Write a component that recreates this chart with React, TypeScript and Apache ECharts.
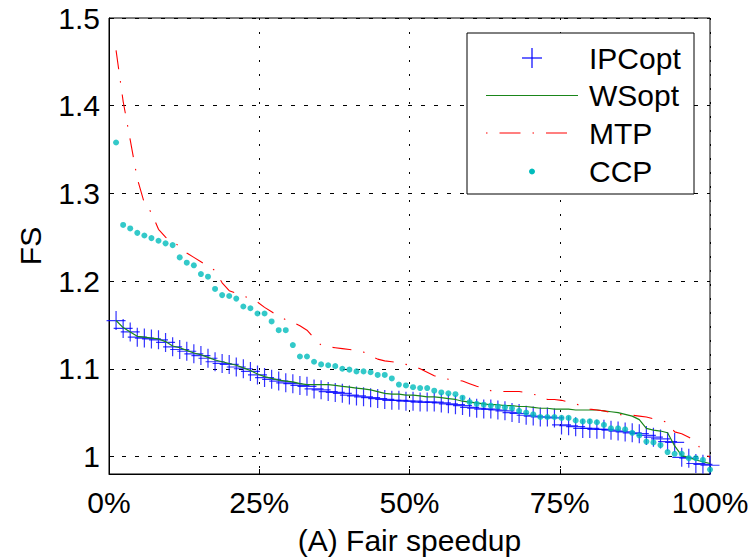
import React, { useEffect, useRef } from "react";
import * as echarts from "echarts";

// Values, index 1..85 (rank percentile)
const ipcOpt = [
  1.155, 1.146, 1.142, 1.136, 1.135, 1.134, 1.133, 1.130, 1.125, 1.122,
  1.120, 1.117, 1.115, 1.112, 1.108, 1.106, 1.105, 1.102, 1.100, 1.097,
  1.093, 1.090, 1.088, 1.086, 1.084, 1.083, 1.081, 1.080, 1.077, 1.076,
  1.074, 1.073, 1.072, 1.070, 1.069, 1.068, 1.067, 1.066, 1.065, 1.064,
  1.064, 1.063, 1.063, 1.062, 1.062, 1.062, 1.061, 1.060, 1.059, 1.058,
  1.056, 1.055, 1.054, 1.054, 1.053, 1.052, 1.050, 1.049, 1.047, 1.046,
  1.045, 1.045, 1.044, 1.036, 1.035, 1.034, 1.032, 1.032, 1.031, 1.031,
  1.030, 1.029, 1.028, 1.027, 1.026, 1.024, 1.022, 1.020, 1.017, 1.016,
  0.999, 0.998, 0.992, 0.991, 0.990,
];

const wsOpt = [
  1.155, 1.147, 1.142, 1.137, 1.136, 1.135, 1.134, 1.131, 1.126, 1.124,
  1.121, 1.118, 1.116, 1.113, 1.110, 1.108, 1.106, 1.104, 1.101, 1.098,
  1.094, 1.091, 1.089, 1.087, 1.086, 1.085, 1.083, 1.082, 1.082, 1.082,
  1.082, 1.081, 1.080, 1.079, 1.078, 1.077, 1.076, 1.074, 1.072, 1.071,
  1.071, 1.070, 1.070, 1.069, 1.068, 1.068, 1.067, 1.066, 1.065, 1.063,
  1.062, 1.061, 1.060, 1.059, 1.059, 1.058, 1.058, 1.057, 1.057, 1.056,
  1.055, 1.055, 1.054, 1.054, 1.054, 1.053, 1.053, 1.053, 1.053, 1.052,
  1.051, 1.050, 1.048, 1.046, 1.042, 1.032, 1.030, 1.029, 1.027, 1.012,
  1.001, 0.999, 0.996, 0.994, 0.992,
];

const mtp = [
  1.463, 1.405, 1.361, 1.317, 1.289, 1.278, 1.259, 1.250, 1.246, 1.239,
  1.232, 1.227, 1.222, 1.217, 1.212, 1.198, 1.189, 1.186, 1.183, 1.180,
  1.176, 1.170, 1.165, 1.160, 1.156, 1.153, 1.149, 1.144, 1.135, 1.127,
  1.125, 1.124, 1.123, 1.122, 1.121, 1.119, 1.115, 1.111, 1.109, 1.108,
  1.107, 1.105, 1.103, 1.100, 1.096, 1.092, 1.090, 1.088, 1.087, 1.086,
  1.083, 1.080, 1.078, 1.075, 1.074, 1.074, 1.074, 1.074, 1.073, 1.071,
  1.069, 1.065, 1.065, 1.064, 1.062, 1.060, 1.057, 1.054, 1.053, 1.052,
  1.050, 1.048, 1.047, 1.047, 1.046, 1.045, 1.043, 1.041, 1.039, 1.028,
  1.026, 1.022, 1.017, 1.004, 0.999,
];

const ccp = [
  1.358, 1.264, 1.260, 1.255, 1.252, 1.249, 1.246, 1.243, 1.241, 1.227,
  1.221, 1.218, 1.208, 1.205, 1.191, 1.184, 1.183, 1.180, 1.171, 1.169,
  1.163, 1.163, 1.154, 1.144, 1.144, 1.127, 1.114, 1.114, 1.108, 1.105,
  1.104, 1.103, 1.100, 1.099, 1.097, 1.097, 1.096, 1.093, 1.093, 1.089,
  1.082, 1.081, 1.079, 1.078, 1.078, 1.075, 1.073, 1.072, 1.071, 1.067,
  1.062, 1.060, 1.059, 1.058, 1.057, 1.056, 1.055, 1.052, 1.050, 1.048,
  1.045, 1.045, 1.045, 1.044, 1.044, 1.041, 1.040, 1.040, 1.039, 1.036,
  1.032, 1.032, 1.031, 1.027, 1.024, 1.017, 1.016, 1.013, 1.005, 1.003,
  1.003, 0.998, 0.998, 0.996, 0.985,
];

const xTicks = [0, 25, 50, 75, 100];
const seriesNames = ["IPCopt", "WSopt", "MTP", "CCP"];

const FONT = "'Liberation Sans', Arial, Helvetica, sans-serif";

// x position of each sample: its rank as a percentage of the set
const withRank = (vals: number[]) =>
  vals.map((v, i) => [((i + 1) / vals.length) * 100, v]);

export default function App() {
  const ref = useRef<HTMLDivElement>(null);

  useEffect(() => {
    if (!ref.current) return;
    const chart = echarts.init(ref.current, undefined, { renderer: "svg" });

    const legendX = 467;
    const legendY = 33;
    const rowY = [58, 95.5, 133, 171.5];
    const iconL = 486;
    const iconR = 578;
    const iconC = 532;
    const textX = 589;

    chart.setOption({
      animation: false,
      backgroundColor: "#ffffff",
      grid: {
        left: 109,
        right: 42,
        top: 18,
        bottom: 84,
        show: true,
        borderColor: "#000000",
        borderWidth: 1,
        backgroundColor: "transparent",
      },
      xAxis: {
        type: "value",
        min: xTicks[0],
        max: xTicks[xTicks.length - 1],
        interval: 25,
        name: "(A) Fair speedup",
        nameLocation: "middle",
        nameGap: 51,
        nameTextStyle: { fontFamily: FONT, fontSize: 30, color: "#000" },
        axisLine: { show: true, lineStyle: { color: "#000", width: 1 } },
        axisTick: { show: true, inside: true, length: 5, lineStyle: { color: "#000" } },
        axisLabel: {
          formatter: "{value}%",
          fontFamily: FONT,
          fontSize: 30,
          color: "#000",
          margin: 13,
        },
        splitLine: {
          show: true,
          lineStyle: { color: "#000", type: [2, 12], width: 1 },
        },
      },
      yAxis: {
        type: "value",
        min: 0.98,
        max: 1.5,
        splitNumber: 5,
        name: "FS",
        nameLocation: "middle",
        nameGap: 64,
        nameTextStyle: { fontFamily: FONT, fontSize: 30, color: "#000" },
        axisLine: { show: true, lineStyle: { color: "#000", width: 1 } },
        axisTick: { show: true, inside: true, length: 5, lineStyle: { color: "#000" } },
        axisLabel: {
          showMinLabel: false,
          fontFamily: FONT,
          fontSize: 30,
          color: "#000",
          margin: 9,
        },
        splitLine: {
          show: true,
          lineStyle: { color: "#000", type: [4, 9], width: 1 },
        },
      },
      series: [
        {
          name: seriesNames[0],
          type: "scatter",
          data: withRank(ipcOpt),
          symbol: "path://M0,10L20,10M10,0L10,20",
          symbolSize: 19,
          itemStyle: { color: "#0000ff", borderColor: "#0000ff", borderWidth: 1.2 },
          clip: false,
          z: 2,
        },
        {
          name: seriesNames[1],
          type: "line",
          data: withRank(wsOpt),
          showSymbol: false,
          symbol: "none",
          lineStyle: { color: "#1a861a", width: 1.2 },
          z: 3,
        },
        {
          name: seriesNames[2],
          type: "line",
          data: withRank(mtp),
          showSymbol: false,
          symbol: "none",
          lineStyle: { color: "#ff0000", width: 1.1, type: [19, 12, 1.5, 12] },
          z: 4,
        },
        {
          name: seriesNames[3],
          type: "scatter",
          data: withRank(ccp),
          symbol: "circle",
          symbolSize: 6,
          itemStyle: { color: "#00bcbc" },
          clip: false,
          z: 5,
        },
      ],
      graphic: [
        {
          type: "rect",
          shape: { x: legendX, y: legendY, width: 227, height: 161 },
          style: { fill: "#ffffff", stroke: "#000000", lineWidth: 1 },
          z: 10,
        },
        {
          type: "line",
          shape: { x1: iconC - 10, y1: rowY[0], x2: iconC + 10, y2: rowY[0] },
          style: { stroke: "#0000ff", lineWidth: 1.2 },
          z: 11,
        },
        {
          type: "line",
          shape: { x1: iconC, y1: rowY[0] - 10, x2: iconC, y2: rowY[0] + 10 },
          style: { stroke: "#0000ff", lineWidth: 1.2 },
          z: 11,
        },
        {
          type: "line",
          shape: { x1: iconL, y1: rowY[1], x2: iconR, y2: rowY[1] },
          style: { stroke: "#1a861a", lineWidth: 1.2 },
          z: 11,
        },
        {
          type: "line",
          shape: { x1: iconL, y1: rowY[2], x2: iconR, y2: rowY[2] },
          style: { stroke: "#ff0000", lineWidth: 1.1, lineDash: [1.5, 12, 21, 12] },
          z: 11,
        },
        {
          type: "circle",
          shape: { cx: iconC, cy: rowY[3], r: 3 },
          style: { fill: "#00bcbc" },
          z: 11,
        },
        ...seriesNames.map((n, i) => ({
          type: "text",
          x: textX,
          y: rowY[i],
          style: {
            text: n,
            fontFamily: FONT,
            fontSize: 30,
            fill: "#000",
            verticalAlign: "middle",
            align: "left",
          },
          z: 11,
        })),
      ],
    });

    return () => chart.dispose();
  }, []);

  return (
    <div
      ref={ref}
      style={{ position: "fixed", left: 0, top: 0, width: 752, height: 560 }}
    />
  );
}
